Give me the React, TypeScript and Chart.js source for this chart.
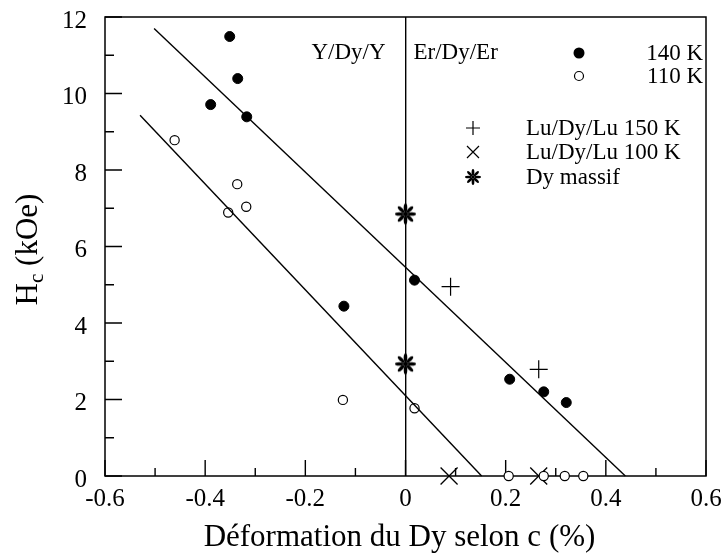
import React, { useEffect, useRef } from 'react';
import { Chart, registerables } from 'chart.js';

Chart.register(...registerables);

// ---- data ----
const xTickLabels = ['-0.6', '-0.4', '-0.2', '0', '0.2', '0.4', '0.6'];
const yTickLabels = ['0', '2', '4', '6', '8', '10', '12'];

const hc140X = [-0.351, -0.335, -0.389, -0.317, -0.123, 0.018, 0.208, 0.276, 0.321];
const hc140Y = [11.49, 10.39, 9.71, 9.39, 4.44, 5.12, 2.53, 2.2, 1.92];

const hc110X = [-0.461, -0.336, -0.318, -0.354, -0.125, 0.018, 0.206, 0.276, 0.318, 0.355];
const hc110Y = [8.78, 7.63, 7.04, 6.89, 1.99, 1.77, 0, 0, 0, 0];

const lu150X = [0.09, 0.266];
const lu150Y = [4.95, 2.79];

const lu100X = [0.087, 0.266];
const lu100Y = [0, 0];

const dyBulkX = [0, 0];
const dyBulkY = [6.85, 2.93];

const fit140X = [-0.502, 0.439];
const fit140Y = [11.7, 0];
const fit110X = [-0.53, 0.152];
const fit110Y = [9.43, 0];

const regionLabels = ['Y/Dy/Y', 'Er/Dy/Er'];
const legendLabels = ['140 K', '110 K', 'Lu/Dy/Lu 150 K', 'Lu/Dy/Lu 100 K', 'Dy massif'];
const xTitle = 'Déformation du Dy selon c (%)';
const yTitleMain = 'H';
const yTitleSub = 'c';
const yTitleRest = ' (kOe)';

const SERIF = '"Liberation Serif", "Times New Roman", serif';

const zip = (xs: number[], ys: number[]) => xs.map((x, i) => ({ x, y: ys[i] }));

// teardrop-spoked asterisk marker, drawn once into a small canvas
function makeAsterisk(size: number): HTMLCanvasElement {
  const c = document.createElement('canvas');
  const s = Math.ceil(size + 4);
  c.width = s;
  c.height = s;
  const g = c.getContext('2d')!;
  const r = size / 2;
  const cx = s / 2;
  const cy = s / 2;
  g.fillStyle = '#000';
  g.strokeStyle = '#000';
  g.lineWidth = Math.max(1, size / 14);
  for (let k = 0; k < 8; k++) {
    const a = (k * Math.PI) / 4;
    g.beginPath();
    g.ellipse(cx + Math.cos(a) * r * 0.6, cy + Math.sin(a) * r * 0.6, r * 0.4, r * 0.17, a, 0, Math.PI * 2);
    g.fill();
    g.beginPath();
    g.moveTo(cx, cy);
    g.lineTo(cx + Math.cos(a) * r * 0.5, cy + Math.sin(a) * r * 0.5);
    g.stroke();
  }
  return c;
}

export default function App() {
  const canvasRef = useRef<HTMLCanvasElement | null>(null);

  useEffect(() => {
    const canvas = canvasRef.current;
    if (!canvas) return;
    const astPoint = makeAsterisk(21);
    const astLegend = makeAsterisk(16);

    const framePlugin = {
      id: 'frameTicks',
      beforeDatasetsDraw(chart: any) {
        const { ctx, chartArea } = chart;
        const xs = chart.scales.x;
        const ys = chart.scales.y;
        ctx.save();
        ctx.strokeStyle = '#000';
        ctx.lineWidth = 1.5;
        ctx.strokeRect(chartArea.left, chartArea.top, chartArea.right - chartArea.left, chartArea.bottom - chartArea.top);
        ctx.lineWidth = 1.4;
        ctx.beginPath();
        for (let i = 0; i <= 12; i++) {
          const v = -0.6 + i * 0.1;
          const px = xs.getPixelForValue(v);
          const len = i % 2 === 0 ? 16 : 8;
          ctx.moveTo(px, chartArea.bottom);
          ctx.lineTo(px, chartArea.bottom - len);
        }
        for (let i = 0; i <= 12; i++) {
          const py = ys.getPixelForValue(i);
          const len = i % 2 === 0 ? 17 : 9;
          ctx.moveTo(chartArea.left, py);
          ctx.lineTo(chartArea.left + len, py);
        }
        ctx.stroke();
        ctx.restore();
      },
      afterDraw(chart: any) {
        const { ctx, chartArea } = chart;
        ctx.save();
        ctx.fillStyle = '#000';
        ctx.strokeStyle = '#000';

        // axis titles
        ctx.font = `31px ${SERIF}`;
        ctx.textAlign = 'center';
        ctx.textBaseline = 'alphabetic';
        ctx.fillText(xTitle, (chartArea.left + chartArea.right) / 2 - 6, 546);

        const mainFont = `31px ${SERIF}`;
        const subFont = `21px ${SERIF}`;
        ctx.font = mainFont;
        const wH = ctx.measureText(yTitleMain).width;
        const wRest = ctx.measureText(yTitleRest).width;
        ctx.font = subFont;
        const wc = ctx.measureText(yTitleSub).width;
        const total = wH + wc + wRest;
        ctx.save();
        ctx.translate(37, (chartArea.top + chartArea.bottom) / 2 + 3);
        ctx.rotate(-Math.PI / 2);
        ctx.textAlign = 'left';
        let tx = -total / 2;
        ctx.font = mainFont;
        ctx.fillText(yTitleMain, tx, 0);
        tx += wH;
        ctx.font = subFont;
        ctx.fillText(yTitleSub, tx, 6);
        tx += wc;
        ctx.font = mainFont;
        ctx.fillText(yTitleRest, tx, 0);
        ctx.restore();

        // region labels
        const x0 = chart.scales.x.getPixelForValue(0);
        ctx.font = `23px ${SERIF}`;
        ctx.textAlign = 'right';
        ctx.fillText(regionLabels[0], x0 - 20, 59);
        ctx.textAlign = 'left';
        ctx.fillText(regionLabels[1], x0 + 8, 59);

        // legend
        const right = chartArea.right - 3;
        ctx.textAlign = 'right';
        ctx.fillText(legendLabels[0], right, 60);
        ctx.fillText(legendLabels[1], right, 83);
        ctx.textAlign = 'left';
        const lx = 526;
        ctx.fillText(legendLabels[2], lx, 135);
        ctx.fillText(legendLabels[3], lx, 159);
        ctx.fillText(legendLabels[4], lx, 184);

        // legend symbols
        ctx.beginPath();
        ctx.arc(579, 53, 5.5, 0, Math.PI * 2);
        ctx.fill();
        ctx.lineWidth = 1.2;
        ctx.beginPath();
        ctx.arc(579, 76, 4.5, 0, Math.PI * 2);
        ctx.stroke();
        ctx.beginPath();
        ctx.moveTo(473 - 7, 128);
        ctx.lineTo(473 + 7, 128);
        ctx.moveTo(473, 128 - 7);
        ctx.lineTo(473, 128 + 7);
        ctx.moveTo(473 - 6, 152 - 6);
        ctx.lineTo(473 + 6, 152 + 6);
        ctx.moveTo(473 + 6, 152 - 6);
        ctx.lineTo(473 - 6, 152 + 6);
        ctx.stroke();
        ctx.drawImage(astLegend, 473 - astLegend.width / 2, 177 - astLegend.height / 2);
        ctx.restore();
      },
    };

    const chart = new Chart(canvas, {
      type: 'scatter',
      data: {
        datasets: [
          {
            label: 'fit 140',
            data: zip(fit140X, fit140Y),
            showLine: true,
            borderColor: '#000',
            borderWidth: 1.4,
            pointRadius: 0,
            clip: false,
          } as any,
          {
            label: 'fit 110',
            data: zip(fit110X, fit110Y),
            showLine: true,
            borderColor: '#000',
            borderWidth: 1.4,
            pointRadius: 0,
            clip: false,
          } as any,
          {
            label: legendLabels[4],
            data: zip(dyBulkX, dyBulkY),
            pointStyle: astPoint as any,
            pointRadius: 10,
            clip: false,
          } as any,
          {
            label: legendLabels[0],
            data: zip(hc140X, hc140Y),
            pointStyle: 'circle',
            pointRadius: 5,
            borderWidth: 1,
            backgroundColor: '#000',
            borderColor: '#000',
            clip: false,
          } as any,
          {
            label: legendLabels[1],
            data: zip(hc110X, hc110Y),
            pointStyle: 'circle',
            pointRadius: 4.6,
            borderWidth: 1.2,
            backgroundColor: '#fff',
            borderColor: '#000',
            clip: false,
          } as any,
          {
            label: legendLabels[2],
            data: zip(lu150X, lu150Y),
            pointStyle: 'cross',
            pointRadius: 9,
            borderWidth: 1.2,
            borderColor: '#000',
            clip: false,
          } as any,
          {
            label: legendLabels[3],
            data: zip(lu100X, lu100Y),
            pointStyle: 'crossRot',
            pointRadius: 12,
            borderWidth: 1.3,
            borderColor: '#000',
            clip: false,
          } as any,
        ],
      },
      options: {
        responsive: false,
        animation: false,
        devicePixelRatio: 1,
        events: [],
        layout: { padding: { left: 0, top: 17, right: 20, bottom: 0 } },
        plugins: {
          legend: { display: false },
          tooltip: { enabled: false },
          title: { display: false },
        },
        scales: {
          x: {
            type: 'linear',
            min: -0.6,
            max: 0.6,
            border: { display: false },
            grid: {
              drawTicks: false,
              lineWidth: 1.4,
              color: (c: any) =>
                c.tick && Math.abs(c.tick.value) < 1e-9 ? '#000' : 'rgba(0,0,0,0)',
            },
            ticks: {
              stepSize: 0.2,
              padding: 8,
              color: '#000',
              font: { family: SERIF, size: 25 },
              maxRotation: 0,
              callback: (_v: any, i: number) => xTickLabels[i],
            },
            afterFit: (s: any) => {
              s.height = 82;
              s.paddingLeft = 0;
              s.paddingRight = 0;
              s.paddingTop = 0;
              s.paddingBottom = 0;
            },
          },
          y: {
            type: 'linear',
            min: 0,
            max: 12,
            border: { display: false },
            grid: { display: false, drawTicks: false },
            ticks: {
              stepSize: 2,
              padding: 18,
              labelOffset: 4,
              color: '#000',
              font: { family: SERIF, size: 25 },
              callback: (_v: any, i: number) => yTickLabels[i],
            },
            afterFit: (s: any) => {
              s.width = 105;
              s.paddingLeft = 0;
              s.paddingRight = 0;
              s.paddingTop = 0;
              s.paddingBottom = 0;
            },
          },
        },
      },
      plugins: [framePlugin],
    });

    return () => chart.destroy();
  }, []);

  return (
    <div style={{ position: 'fixed', left: 0, top: 0, width: 726, height: 558, background: '#fff' }}>
      <canvas ref={canvasRef} width={726} height={558} style={{ display: 'block' }} />
    </div>
  );
}
